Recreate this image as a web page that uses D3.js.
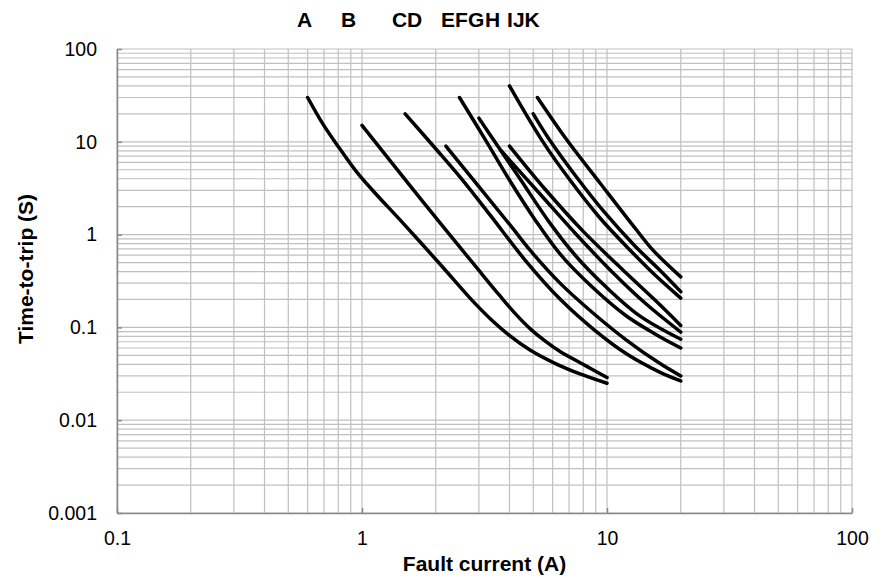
<!DOCTYPE html>
<html>
<head>
<meta charset="utf-8">
<script src="https://cdn.jsdelivr.net/npm/d3@7"></script>
<style>
body { margin: 0; background: #fff; }
text { font-family: "Liberation Sans", Arial, sans-serif; fill: #000; }
</style>
</head>
<body>
<div id="chart"></div>
<script>
// curve letters shown above the plot
var curveLetters = ["A", "B", "C", "D", "E", "F", "G", "H", "I", "J", "K"];

// [fault current (A), time-to-trip (s)]
var curveA = [[0.6,30],[0.693,15.5],[0.813,8.36],[0.945,4.84],[1.13,2.81],[1.43,1.44],[2.08,0.482],[2.76,0.207],[3.33,0.125],[4.02,0.081],[4.85,0.057],[6.13,0.041],[7.76,0.0315],[10,0.025]];
var curveB = [[1.0,15],[1.725,2.47],[3.03,0.398],[3.66,0.218],[4.25,0.138],[4.85,0.097],[5.58,0.0714],[6.43,0.055],[8.13,0.039],[10,0.0288]];
var curveC = [[1.5,20],[2.02,8.16],[2.51,4.18],[3.33,1.63],[4.63,0.532],[6.43,0.202],[8.79,0.096],[12,0.052],[16.4,0.033],[20,0.0265]];
var curveD = [[2.2,9],[4.02,1.27],[4.85,0.68],[6.43,0.30],[8.79,0.142],[12,0.073],[16.4,0.041],[20,0.03]];
var curveE = [[2.5,30],[3.19,10.5],[4.02,3.78],[5.09,1.44],[6.43,0.618],[8.53,0.286],[11.85,0.136],[15.7,0.085],[20,0.06]];
var curveF = [[3,18],[3.49,9.95],[4.42,3.97],[5.85,1.33],[7.4,0.603],[9.82,0.279],[13.6,0.133],[20,0.0745]];
var curveG = [[3.7,8],[5.33,2.74],[7.4,1.04],[10.3,0.416],[14.3,0.183],[20,0.089]];
var curveH = [[4,40],[5.41,10.5],[7.06,3.87],[9.36,1.51],[12.4,0.683],[15.7,0.367],[20,0.207]];
var curveI = [[4,9],[5.58,3.1],[7.98,1.09],[11.85,0.395],[15.7,0.197],[20,0.105]];
var curveJ = [[5,20],[5.76,11],[7.4,4.39],[9.82,1.71],[13,0.754],[16.4,0.416],[20,0.243]];
var curveK = [[5.2,30],[6.85,10.5],[9.36,3.6],[13.2,1.12],[15.4,0.68],[20,0.35]];

var allCurves = [curveA, curveB, curveC, curveD, curveE, curveF, curveG, curveH, curveI, curveJ, curveK];

var xTicks = [0.1, 1, 10, 100];
var yTicks = [0.001, 0.01, 0.1, 1, 10, 100];

// layout
var W = 885, H = 578;
var margin = {left: 117, top: 49, right: 33, bottom: 65};
var width = W - margin.left - margin.right;
var height = H - margin.top - margin.bottom;
var letterX = [297, 341, 392, 407, 441, 455, 468, 485, 507, 513, 524.5];

var svg = d3.select("#chart").append("svg").attr("width", W).attr("height", H);
var g = svg.append("g").attr("transform", "translate(" + margin.left + "," + margin.top + ")");

var x = d3.scaleLog().domain([0.1, 100]).range([0, width]);
var y = d3.scaleLog().domain([0.001, 100]).range([height, 0]);

// grid (major + minor)
g.append("g").selectAll("line").data(x.ticks()).enter().append("line")
	.attr("x1", function(d){ return x(d); }).attr("x2", function(d){ return x(d); })
	.attr("y1", 0).attr("y2", height)
	.attr("stroke", "#c0c0c0").attr("stroke-width", 1.2);

g.append("g").selectAll("line").data(y.ticks()).enter().append("line")
	.attr("y1", function(d){ return y(d); }).attr("y2", function(d){ return y(d); })
	.attr("x1", 0).attr("x2", width)
	.attr("stroke", "#c0c0c0").attr("stroke-width", 1.2);

// axes
var xAxis = d3.axisBottom(x).tickValues(xTicks).tickSizeInner(-5).tickSizeOuter(0).tickPadding(18)
	.tickFormat(function(d){ return String(d); });
var yAxis = d3.axisLeft(y).tickValues(yTicks).tickSizeInner(-5).tickSizeOuter(0).tickPadding(20)
	.tickFormat(function(d){ return String(d); });

var gx = g.append("g").attr("transform", "translate(0," + height + ")").call(xAxis);
var gy = g.append("g").call(yAxis);

[gx, gy].forEach(function(a){
	a.select(".domain").attr("stroke", "#898989").attr("stroke-width", 1.5);
	a.selectAll(".tick line").attr("stroke", "#898989").attr("stroke-width", 1.5);
	a.selectAll(".tick text").attr("font-size", 19.5).attr("font-family", "Liberation Sans, Arial, sans-serif").attr("fill", "#000");
});

// curves
var line = d3.line()
	.x(function(d){ return x(d[0]); })
	.y(function(d){ return y(d[1]); })
	.curve(d3.curveCatmullRom.alpha(0.5));

g.append("g").selectAll("path").data(allCurves).enter().append("path")
	.attr("d", line)
	.attr("fill", "none")
	.attr("stroke", "#000")
	.attr("stroke-width", 3.5)
	.attr("stroke-linecap", "round")
	.attr("stroke-linejoin", "round");

// letters on top
svg.append("g").selectAll("text").data(curveLetters).enter().append("text")
	.attr("x", function(d, i){ return letterX[i]; })
	.attr("y", 27)
	.attr("font-size", 21).attr("font-weight", "bold")
	.text(function(d){ return d; });

// axis titles
svg.append("text")
	.attr("x", margin.left + width / 2).attr("y", 571)
	.attr("text-anchor", "middle").attr("font-size", 21).attr("font-weight", "bold")
	.text("Fault current (A)");

svg.append("text")
	.attr("transform", "translate(33,269) rotate(-90)")
	.attr("text-anchor", "middle").attr("font-size", 21).attr("font-weight", "bold")
	.text("Time-to-trip (S)");
</script>
</body>
</html>
